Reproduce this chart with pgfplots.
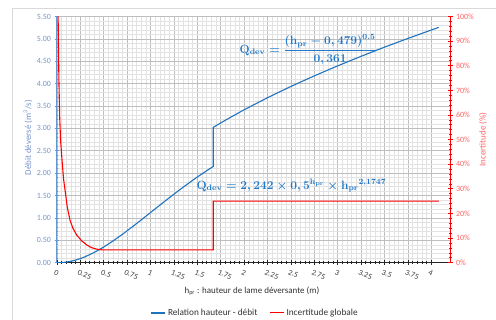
\documentclass[border=0pt]{standalone}
\usepackage[no-math]{fontspec}
\setmainfont{Carlito}
\usepackage{pgfplots}
\pgfplotsset{compat=1.18}
\definecolor{qblue}{RGB}{30,115,190}
\definecolor{eqblue}{RGB}{31,120,200}
\definecolor{tickblue}{RGB}{120,150,205}
\definecolor{axblue}{RGB}{100,150,210}
\definecolor{lblred}{RGB}{255,100,100}
\definecolor{majgrid}{RGB}{190,190,190}
\definecolor{mingrid}{RGB}{226,226,226}
\pgfplotstableread{
h Q
0 0
0.05 0.0032
0.1 0.0140
0.15 0.0326
0.2 0.0589
0.25 0.0926
0.3 0.1328
0.4 0.2316
0.5 0.3512
0.6 0.4871
0.7 0.6354
0.8 0.7925
0.9 0.9555
1.0 1.1210
1.1 1.2868
1.2 1.4508
1.3 1.6108
1.4 1.7659
1.5 1.9147
1.6 2.0555
1.67 2.1494
1.67 3.023
1.7 3.061
1.8 3.184
2.0 3.416
2.25 3.686
2.5 3.938
2.75 4.174
3.0 4.398
3.25 4.611
3.5 4.815
3.75 5.010
4.0 5.198
4.08 5.257
}\debit
\pgfplotstableread{
h U
0.012 100
0.02 75
0.028 60
0.038 50
0.053 42
0.07 34
0.086 29.5
0.11 22.5
0.139 17.3
0.17 14
0.21 11.3
0.26 9
0.318 7.2
0.37 6.1
0.425 5.5
0.48 5.2
1.67 5.2
1.67 25
4.08 25
}\incert
\begin{document}
\begin{tikzpicture}
\useasboundingbox (0,0) rectangle (496bp,320bp);
\fill[white] (0,0) rectangle (496bp,320bp);
\draw[black!15, line width=0.8bp] (12bp,-2bp) -- (12bp,312bp) -- (498bp,312bp);
\begin{axis}[
  at={(57bp,57.3bp)}, anchor=south west, scale only axis,
  width=393bp, height=246.2bp,
  xmin=0, xmax=4.2, ymin=0, ymax=5.5,
  axis x line*=bottom, axis y line*=left,
  axis line style={-},
  x axis line style={black!85, line width=0.8bp},
  y axis line style={axblue, line width=1bp},
  xtick={0,0.25,0.5,0.75,1,1.25,1.5,1.75,2,2.25,2.5,2.75,3,3.25,3.5,3.75,4},
  ytick={0,0.5,1,1.5,2,2.5,3,3.5,4,4.5,5,5.5},
  minor x tick num=4, minor y tick num=4,
  grid=both,
  major grid style={majgrid, line width=0.6bp},
  minor grid style={mingrid, line width=0.5bp},
  tick align=center, major tick length=5bp, minor tick length=3bp,
  xtick style={black!85, line width=0.7bp},
  ytick style={axblue, line width=0.7bp},
  /pgf/number format/assume math mode=true,
  xticklabel style={rotate=-23, anchor=north west, xshift=-3bp, yshift=-1bp,
    font=\fontsize{8}{9}\selectfont, text=black!75},
  yticklabel={\pgfmathprintnumber[fixed,fixed zerofill,precision=2]{\tick}},
  yticklabel style={font=\fontsize{8}{9}\selectfont, text=tickblue},
  xlabel={h\textsubscript{pr} : hauteur de lame déversante (m)},
  xlabel style={at={(axis description cs:0.496,-0.115)}, anchor=center,
    font=\fontsize{9}{10}\selectfont, text=black!80},
  ylabel={Débit déversé (m\textsuperscript{3}/s)},
  ylabel style={at={(axis description cs:-0.074,0.507)}, anchor=center,
    font=\fontsize{9}{10}\selectfont, text=tickblue},
]
\addplot[qblue, line width=1.1bp] table[x=h, y=Q] {\debit};
\node[anchor=west, text=eqblue, font=\fontsize{12}{14}\selectfont, inner sep=0pt] at (axis cs:1.95,4.76) {{\boldmath$\mathbf{Q}_{\mathbf{dev}} = \displaystyle\frac{(\mathbf{h}_{\mathbf{pr}} - \mathbf{0,479})^{\mathbf{0.5}}}{\mathbf{0,361}}$}};
\node[anchor=west, text=eqblue, font=\fontsize{12}{14}\selectfont, inner sep=0pt] at (axis cs:1.49,1.72) {{\boldmath$\mathbf{Q}_{\mathbf{dev}} = \mathbf{2,242} \times \mathbf{0,5}^{\mathbf{h}_{\mathbf{pr}}} \times {\mathbf{h}_{\mathbf{pr}}}^{\mathbf{2,1747}}$}};
\end{axis}
\begin{axis}[
  at={(57bp,57.3bp)}, anchor=south west, scale only axis,
  width=393bp, height=246.2bp,
  xmin=0, xmax=4.2, ymin=0, ymax=100,
  hide x axis, axis y line*=right,
  axis line style={-},
  y axis line style={red, line width=1bp},
  ytick={0,10,20,30,40,50,60,70,80,90,100},
  minor y tick num=4,
  tick align=center, major tick length=5bp, minor tick length=3bp,
  ytick style={red, line width=0.7bp},
  /pgf/number format/assume math mode=true,
  yticklabel={\pgfmathprintnumber{\tick}\%},
  yticklabel style={font=\fontsize{8}{9}\selectfont, text=lblred},
  ylabel={Incertitude (\%)},
  ylabel style={at={(axis description cs:1.084,0.5)}, anchor=center,
    font=\fontsize{9}{10}\selectfont, text=lblred},
  legend style={at={(axis description cs:0.504,-0.204)}, anchor=center,
    draw=none, fill=none, font=\fontsize{9.3}{10}\selectfont, text=black!80,
    legend columns=2, inner sep=0pt,
    /tikz/every even column/.append style={column sep=10bp}},
  legend image code/.code={\draw[#1] (0bp,0bp) -- (14bp,0bp);},
]
\addlegendimage{qblue, line width=1.5bp}
\addlegendentry{Relation hauteur - débit}
\addplot[red, line width=1.1bp] table[x=h, y=U] {\incert};
\addlegendentry{Incertitude globale}
\end{axis}
\end{tikzpicture}
\end{document}
